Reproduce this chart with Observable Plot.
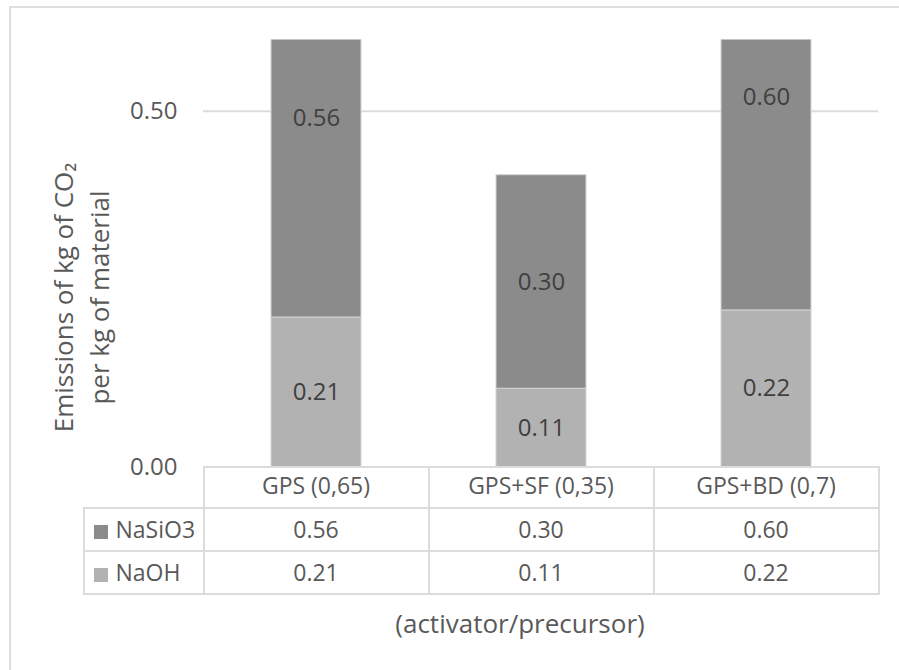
<!DOCTYPE html>
<html>
<head>
<meta charset="utf-8">
<script src="https://cdn.jsdelivr.net/npm/d3@7"></script>
<script src="https://cdn.jsdelivr.net/npm/@observablehq/plot@0.6"></script>
<style>
  html, body { margin: 0; padding: 0; background: #fff; overflow: hidden; }
  #chart { position: relative; width: 899px; height: 670px; overflow: hidden;
           font-family: "Open Sans", sans-serif; font-size: 23px; color: #595959; }
  #frame { position: absolute; left: 9px; top: 6px; width: 1000px; height: 800px;
           border: 2px solid #dedede; box-sizing: border-box; }
  #plot { position: absolute; left: 0; top: 0; }
  #table { position: absolute; border-collapse: collapse; table-layout: fixed; }
  #table td { border: 2px solid #dcdcdc; padding: 0; text-align: center; white-space: nowrap; }
  #table tr.head td { padding-bottom: 4px; }
  #table td.blank { border: none; }
  #table td.key { text-align: left; padding-left: 9px; }
  #table .swatch { display: inline-block; width: 14px; height: 14px; margin-right: 8px;
                   vertical-align: -1px; }
  #xtitle { position: absolute; top: 607px; line-height: 32px; font-size: 26px;
            transform: translateX(-50%); white-space: nowrap; }
</style>
</head>
<body>
<div id="chart">
  <div id="frame"></div>
</div>
<script>
// Categories (activator/precursor ratio) and the two activator contributions
const categories = ["GPS (0,65)", "GPS+SF (0,35)", "GPS+BD (0,7)"];
const naohValues = [0.21, 0.11, 0.22];
const nasio3Values = [0.56, 0.30, 0.60];
const seriesNames = ["NaSiO3", "NaOH"];
const seriesColors = ["#8b8b8b", "#b2b2b2"];
const yTicks = [0, 0.5];
const yTitle = "Emissions of kg of CO\u2082\nper kg of material";
const xTitle = "(activator/precursor)";

// Long-format rows: NaOH first so it sits at the bottom of each stack
const rows = [
  ...categories.map((c, i) => ({category: c, series: "NaOH", value: naohValues[i]})),
  ...categories.map((c, i) => ({category: c, series: "NaSiO3", value: nasio3Values[i]}))
];
const fmt = d => d.toFixed(2);

const W = 899, H = 480;
const plot = Plot.plot({
  width: W,
  height: H,
  marginLeft: 203,
  marginRight: 21,
  marginTop: 39.5,
  marginBottom: 13.5,
  style: {fontFamily: "'Open Sans', sans-serif", fontSize: "23px", color: "#595959", background: "transparent", overflow: "visible"},
  x: {domain: categories, paddingInner: 0.6, paddingOuter: 0.3, axis: null},
  y: {domain: [0, 0.6], axis: null},
  color: {domain: seriesNames, range: seriesColors},
  marks: [
    Plot.ruleY([0.5], {stroke: "#dcdcdc", strokeWidth: 2}),
    Plot.axisY({ticks: yTicks, tickSize: 0, tickPadding: 26, tickFormat: fmt, label: null, fill: "#595959", fontSize: 24}),
    Plot.barY(rows, Plot.stackY({
      x: "category", y: "value", fill: "series",
      stroke: "#d4d4d4", strokeWidth: 1, clip: true
    })),
    Plot.text(rows, Plot.stackY({
      x: "category", y: "value", z: "series",
      text: d => fmt(d.value), fill: "#404040", fontSize: 24
    })),
    Plot.text([yTitle], {
      frameAnchor: "left", textAnchor: "middle", lineAnchor: "middle",
      rotate: -90, dx: -124, dy: 44, fontSize: 26, lineHeight: 1.38, fill: "#595959"
    })
  ]
});
plot.id = "plot";
const chart = document.getElementById("chart");
chart.appendChild(plot);

// Data table under the plot, its columns aligned with the x bands
const xs = plot.scale("x");
const step = xs.step;
const colLeft = xs.apply(categories[0]) - (step - xs.bandwidth) / 2;
const keyWidth = 120;
const tableTop = H - 13.5;

const table = document.createElement("table");
table.id = "table";
table.style.left = (colLeft - keyWidth - 1) + "px";
table.style.top = (tableTop - 1) + "px";
table.style.width = (keyWidth + step * categories.length) + "px";

const colgroup = document.createElement("colgroup");
[keyWidth, ...categories.map(() => step)].forEach(w => {
  const col = document.createElement("col");
  col.style.width = w + "px";
  colgroup.appendChild(col);
});
table.appendChild(colgroup);

const head = document.createElement("tr");
head.className = "head";
head.style.height = "41px";
const blank = document.createElement("td");
blank.className = "blank";
head.appendChild(blank);
categories.forEach(c => {
  const td = document.createElement("td");
  td.textContent = c;
  head.appendChild(td);
});
table.appendChild(head);

const seriesValues = {NaSiO3: nasio3Values, NaOH: naohValues};
seriesNames.forEach((s, k) => {
  const tr = document.createElement("tr");
  tr.style.height = "43px";
  const key = document.createElement("td");
  key.className = "key";
  const sw = document.createElement("span");
  sw.className = "swatch";
  sw.style.background = seriesColors[k];
  key.appendChild(sw);
  key.appendChild(document.createTextNode(s));
  tr.appendChild(key);
  seriesValues[s].forEach(v => {
    const td = document.createElement("td");
    td.textContent = fmt(v);
    tr.appendChild(td);
  });
  table.appendChild(tr);
});
chart.appendChild(table);

const xt = document.createElement("div");
xt.id = "xtitle";
xt.textContent = xTitle;
xt.style.left = "520px";
chart.appendChild(xt);
</script>
</body>
</html>
